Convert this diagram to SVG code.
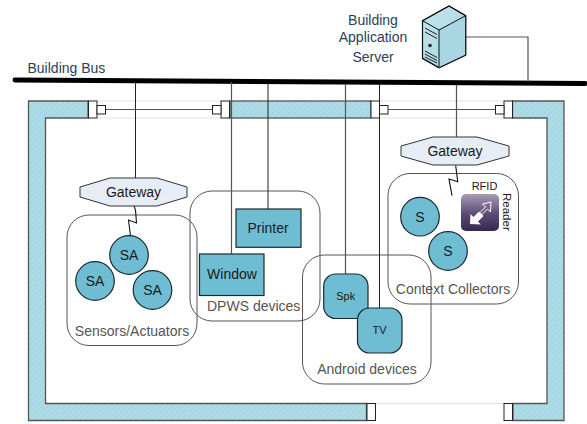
<svg xmlns="http://www.w3.org/2000/svg" width="587" height="424" viewBox="0 0 587 424">
<style>
text{font-family:"Liberation Sans",Arial,sans-serif;font-size:14px;fill:#1a1a1a}
.t{fill:#2c3e5c}.g{fill:#555}.m{text-anchor:middle}.s{font-size:11px}
.wall{fill:url(#hatch);stroke:#555;stroke-width:1.3}
.jamb{fill:#fff;stroke:#222;stroke-width:1}
.ln{fill:none;stroke:#222;stroke-width:1}
.ln2{fill:none;stroke:#555;stroke-width:1.2}
.pale{stroke:#e2e2e2;stroke-width:1;fill:none}
.grp{fill:none;stroke:#555;stroke-width:1}
.dev{fill:#6fbdd3;stroke:#1c2a30;stroke-width:1.2}
.gw{fill:#e6edf7;stroke:#333;stroke-width:1}
.z{fill:none;stroke:#111;stroke-width:1.1}
</style>
<defs>
<pattern id="hatch" width="4" height="4" patternUnits="userSpaceOnUse" patternTransform="rotate(45)">
<rect width="4" height="4" fill="#aedde8"/><rect width="2" height="4" fill="#a5d6e2"/>
</pattern>
<linearGradient id="rf" x1="0" y1="0" x2="0" y2="1"><stop offset="0" stop-color="#a79cb5"/><stop offset="0.55" stop-color="#5b4a75"/><stop offset="1" stop-color="#35264f"/></linearGradient>
<linearGradient id="sf" x1="0" y1="0" x2="1" y2="1"><stop offset="0" stop-color="#c9e6ee"/><stop offset="1" stop-color="#9ed2e0"/></linearGradient>
</defs>
<g id="walls">
<path class="wall" d="M88 101H28.5V420.5H366.5V403.5H45.5V118H88Z"/>
<rect class="wall" x="230" y="101" width="141" height="17"/>
<path class="wall" d="M512.5 101H564V420.5H513V403.5H547V118H512.5Z"/>
<path class="pale" d="M97 101H221M97 118H221M380 101H504M380 118H504M376 403.5H504"/>
<path class="ln2" d="M105.5 109.5H212.500M388 109.500H495.500"/>
<rect class="jamb" x="88.500" y="101" width="8.500" height="17"/><rect class="jamb" x="97" y="105.500" width="8.500" height="8.500"/>
<rect class="jamb" x="221" y="101" width="8.500" height="17"/><rect class="jamb" x="212.500" y="105.500" width="8.500" height="8.500"/>
<rect class="jamb" x="371" y="101" width="8.500" height="17"/><rect class="jamb" x="379.500" y="105.500" width="8.500" height="8.500"/>
<rect class="jamb" x="504" y="101" width="8.500" height="17"/><rect class="jamb" x="495.500" y="105.500" width="8.500" height="8.500"/>
<rect class="jamb" x="367" y="403.500" width="8.500" height="17"/><rect class="jamb" x="504" y="403.500" width="8.500" height="17"/>
</g>
<g id="group-sensors"><rect class="grp" x="67" y="215" width="130" height="130.500" rx="22"/><text class="g m" x="132" y="336">Sensors/Actuators</text></g>
<g id="group-dpws"><rect class="grp" x="190" y="191" width="130" height="130" rx="22"/><text class="g" x="207" y="311">DPWS devices</text></g>
<g id="group-context"><rect class="grp" x="388" y="173.500" width="130.500" height="130.500" rx="22"/><text class="g m" x="453" y="294">Context Collectors</text></g>
<g id="group-android"><rect class="grp" x="302.500" y="255" width="128.500" height="129" rx="22"/><text class="g m" x="367" y="374">Android devices</text></g>
<g id="connectors">
<path d="M15 80L585 83.500" fill="none" stroke="#000" stroke-width="5" stroke-linecap="round"/>
<path class="ln" d="M135.500 83V178M268 83V209M379.500 84V308"/>
<path class="ln2" d="M231.500 82V254M345.500 84V274M456.500 85V137M466 37H528V82"/>
<path class="z" d="M134 206L135.500 210L136.500 223L128.500 220L130.500 236"/>
<path class="z" d="M455.700 165.500L457.700 181.700L449 179L452 195.700"/>
</g>
<g id="label-bus"><text class="t" x="27.500" y="73">Building Bus</text></g>
<g id="server">
<text class="t m" x="373" y="25">Building</text><text class="t m" x="373" y="42">Application</text><text class="t m" x="373" y="62">Server</text>
<path d="M422.500 20.700L449 6L465.700 15.700V55L439 67.700L422.500 58.300Z" fill="url(#sf)" stroke="#111" stroke-width="1.200"/>
<path d="M439 30V67.700L465.700 55V15.700Z" fill="#a8d6e3"/>
<path d="M422.500 20.700L439 30L465.700 15.700M439 30V67.700M422.500 20.700L449 6L465.700 15.700V55L439 67.700L422.500 58.300Z" fill="none" stroke="#111" stroke-width="1"/>
<path d="M425 28L437 34.500M425 32L437 38.500M425 51L437 57.500M425 54L437 60.500M425 57L437 63" stroke="#222" stroke-width="1" fill="none"/>
<circle cx="430" cy="45.500" r="1.800" fill="#222"/>
</g>
<g id="gateway-1"><polygon class="gw" points="110,178 157,178 187,187 187,197 157,206 110,206 80,197 80,187"/><text class="m" x="133.500" y="197">Gateway</text></g>
<g id="gateway-2"><polygon class="gw" points="433,137 477,137 509,146 509,156 477,165 433,165 401,156 401,146"/><text class="m" x="455" y="156">Gateway</text></g>
<g id="sa-1"><circle class="dev" cx="129" cy="255" r="19.300"/><text class="m" x="129" y="260">SA</text></g>
<g id="sa-2"><circle class="dev" cx="95" cy="281" r="19.300"/><text class="m" x="95" y="286">SA</text></g>
<g id="sa-3"><circle class="dev" cx="152.500" cy="290" r="19.300"/><text class="m" x="152.500" y="295">SA</text></g>
<g id="printer"><rect class="dev" x="236" y="209" width="65" height="38.300"/><text class="m" x="268" y="233">Printer</text></g>
<g id="window"><rect class="dev" x="199.500" y="254" width="64.500" height="41.500"/><text class="m" x="232" y="279">Window</text></g>
<g id="spk"><rect class="dev" x="323.700" y="274" width="44.300" height="44.500" rx="12"/><text class="m s" x="345.700" y="300">Spk</text></g>
<g id="tv"><rect class="dev" x="357.500" y="308" width="44.500" height="45" rx="12"/><text class="m s" x="379.500" y="334">TV</text></g>
<g id="s-1"><circle class="dev" cx="420" cy="216.700" r="19.300"/><text class="m" x="420" y="221.500">S</text></g>
<g id="s-2"><circle class="dev" cx="448" cy="251" r="19.300"/><text class="m" x="448" y="256">S</text></g>
<g id="rfid-reader">
<text class="m s" x="484.500" y="190">RFID</text>
<text class="s" transform="translate(502.500 193) rotate(90)" style="font-size:11.500px">Reader</text>
<rect x="461" y="194" width="38" height="37" rx="5" fill="url(#rf)"/>
<path d="M470 224L470.500 214L473.500 217L479 211.500L483.500 216L478 221.500L481 224.500Z" fill="#fff"/>
<path d="M491 202L490.500 212L487.500 209L482 214.500L480 212.500L485.500 207L482.500 204Z" fill="none" stroke="#fff" stroke-width="1"/>
</g>
</svg>
